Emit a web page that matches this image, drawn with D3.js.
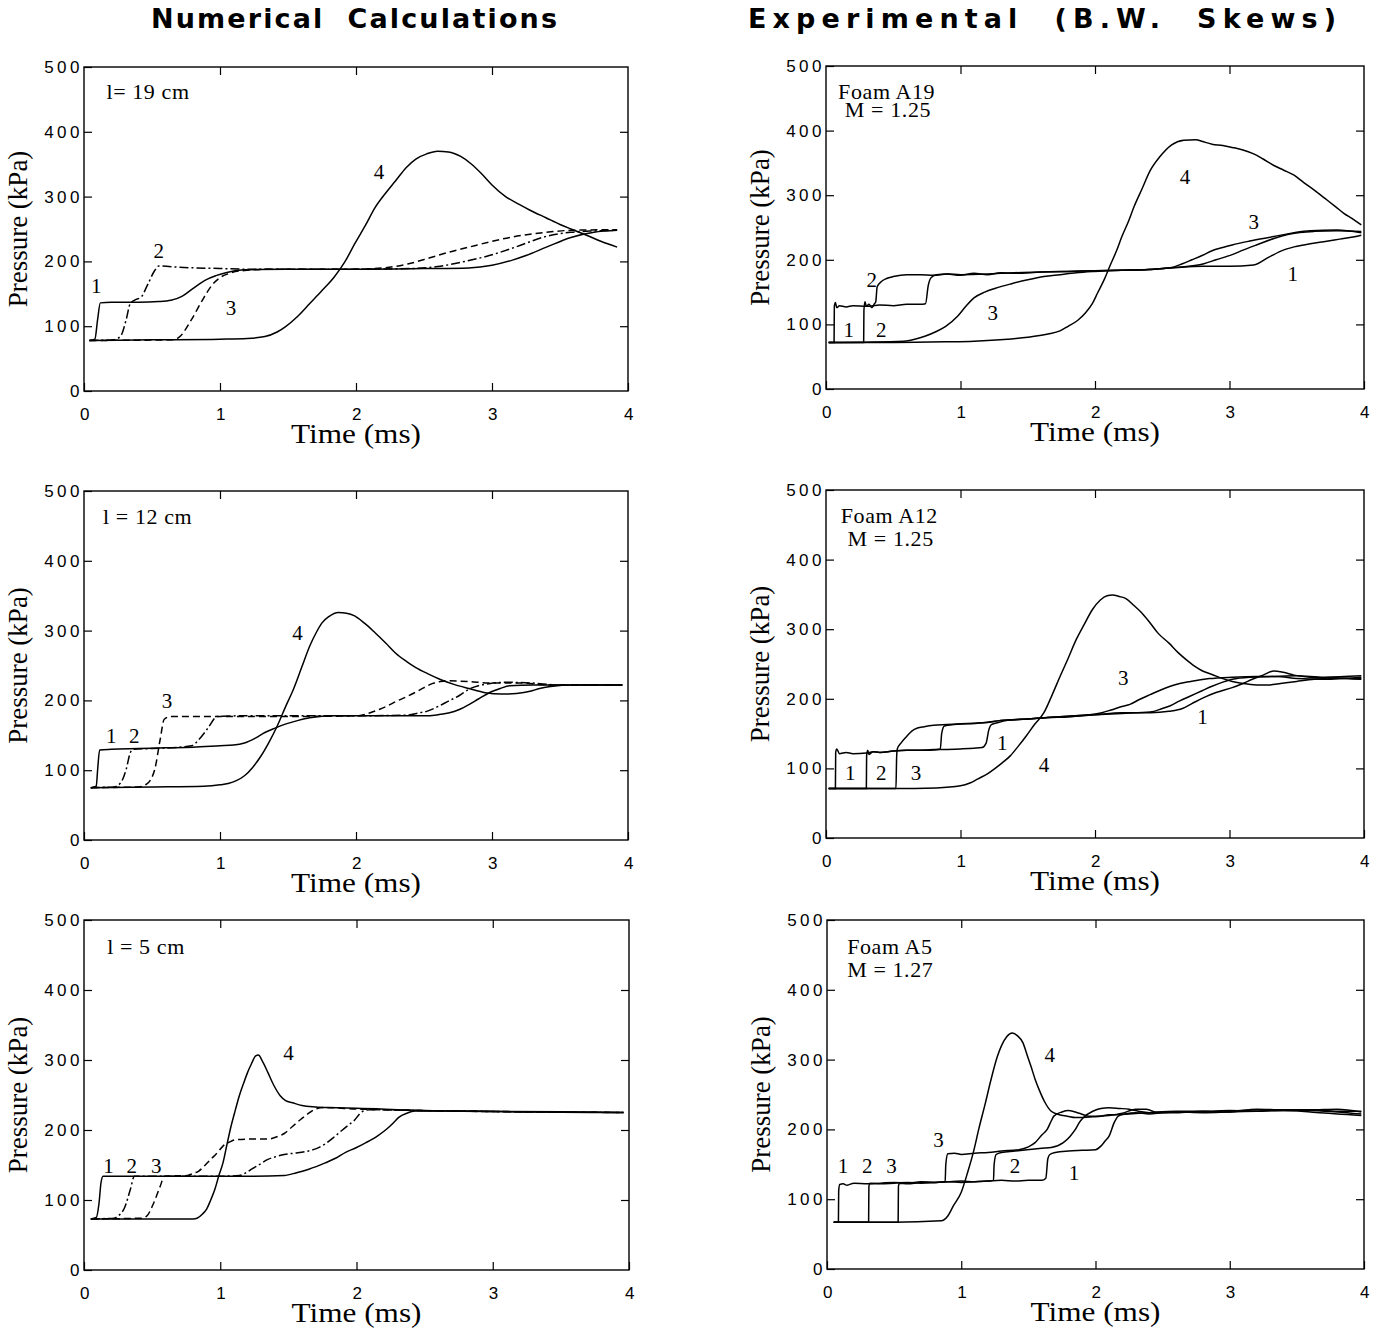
<!DOCTYPE html>
<html>
<head>
<meta charset="utf-8">
<script src="https://cdn.jsdelivr.net/npm/d3@7"></script>
<style>
  body { margin: 0; background: #fff; }
  svg { display: block; }
  .tick text { font-family: "Liberation Sans", Arial, sans-serif; font-size: 17px; letter-spacing: 3.5px; fill: #000; }
  .tick line { stroke: #000; stroke-width: 1.2; }
  .serif { font-family: "Liberation Serif", "Times New Roman", serif; fill: #000; }
  .title { font-family: "DejaVu Sans", sans-serif; font-weight: bold; font-size: 27px; white-space: pre; }
</style>
</head>
<body>
<svg id="chart" width="1388" height="1332"></svg>
<script>
// ---- tick values
const timeTicks = [0, 1, 2, 3, 4];
const pressureTicks = [0, 100, 200, 300, 400, 500];

// ---- Numerical, l = 19 cm  (t in ms, p in kPa)
const num19_c1 = [[0.04,78],[0.08,80],[0.10,110],[0.12,136],[0.2,137],[0.4,137],[0.55,138],[0.64,140],[0.72,146],[0.8,158],[0.9,172],[0.97,178],[1.05,183],[1.18,187],[1.5,188],[2.0,188],[2.5,189],[2.83,190],[3.0,194],[3.15,202],[3.25,209],[3.4,222],[3.58,237],[3.75,245],[3.92,248]];
const num19_c2 = [[0.04,78],[0.22,79],[0.27,85],[0.31,110],[0.34,135],[0.37,140],[0.42,145],[0.47,165],[0.52,186],[0.55,193],[0.7,191],[1.0,189],[1.2,188],[1.8,188],[2.4,189],[2.6,192],[2.8,200],[2.98,209],[3.13,219],[3.25,228],[3.37,237],[3.5,243],[3.58,245],[3.75,247],[3.92,248]];
const num19_c3 = [[0.04,78],[0.65,79],[0.7,83],[0.79,110],[0.87,140],[0.94,163],[1.0,175],[1.06,181],[1.18,186],[1.4,188],[2.0,188],[2.2,190],[2.38,196],[2.55,206],[2.68,214],[2.83,222],[2.98,230],[3.13,237],[3.28,242],[3.45,246],[3.58,248],[3.92,249]];
const num19_c4 = [[0.04,78],[0.5,79],[1.0,80],[1.2,81],[1.33,84],[1.42,91],[1.48,99],[1.57,115],[1.66,135],[1.75,155],[1.84,176],[1.92,200],[1.99,227],[2.07,256],[2.14,283],[2.22,306],[2.29,324],[2.37,345],[2.44,358],[2.52,366],[2.6,370],[2.68,369],[2.77,362],[2.85,350],[2.92,336],[3.0,318],[3.1,300],[3.2,288],[3.28,279],[3.4,267],[3.5,257],[3.58,250],[3.7,240],[3.8,231],[3.92,222]];

// ---- Experimental, foam A19
const exp19_c1 = [[0.02,72],[0.06,72],[0.062,128],[0.07,134],[0.08,126],[0.1,129],[0.15,127],[0.2,129],[0.3,128],[0.4,130],[0.5,129],[0.6,131],[0.7,131],[0.74,132],[0.76,160],[0.78,172],[0.82,177],[0.9,178],[1.0,176],[1.1,179],[1.2,177],[1.3,180],[1.4,179],[1.6,181],[1.8,182],[2.0,183],[2.2,184],[2.4,185],[2.6,188],[2.8,190],[3.0,190],[3.18,192],[3.3,205],[3.4,215],[3.48,220],[3.6,225],[3.7,228],[3.82,232],[3.94,236],[3.98,238]];
const exp19_c2 = [[0.02,72],[0.28,72],[0.282,122],[0.29,135],[0.3,128],[0.32,131],[0.34,126],[0.36,132],[0.37,135],[0.38,158],[0.41,166],[0.45,171],[0.5,174],[0.6,177],[0.7,177],[0.8,176],[0.9,178],[1.0,177],[1.2,178],[1.4,180],[1.6,181],[1.8,182],[2.0,183],[2.2,184],[2.4,185],[2.6,188],[2.81,194],[2.9,200],[3.02,208],[3.1,215],[3.2,223],[3.33,233],[3.45,240],[3.63,244],[3.8,245],[3.98,244]];
const exp19_c3 = [[0.02,72],[0.58,74],[0.66,77],[0.74,82],[0.82,89],[0.89,97],[0.98,113],[1.04,128],[1.1,141],[1.18,150],[1.26,156],[1.38,163],[1.5,169],[1.62,174],[1.74,177],[1.86,180],[1.99,182],[2.2,184],[2.4,185],[2.57,188],[2.65,194],[2.72,200],[2.8,207],[2.87,214],[2.95,219],[3.02,223],[3.15,229],[3.33,236],[3.48,242],[3.6,245],[3.8,246],[3.98,242]];
const exp19_c4 = [[0.02,72],[0.5,72],[0.89,73],[1.1,74],[1.35,77],[1.5,80],[1.65,85],[1.74,90],[1.8,97],[1.87,106],[1.93,118],[1.98,132],[2.02,149],[2.07,170],[2.11,190],[2.16,214],[2.2,236],[2.25,260],[2.29,282],[2.35,310],[2.41,338],[2.48,359],[2.57,378],[2.66,385],[2.75,386],[2.8,383],[2.87,379],[2.95,377],[3.02,374],[3.1,370],[3.18,364],[3.25,356],[3.33,346],[3.4,339],[3.48,331],[3.55,320],[3.63,308],[3.71,295],[3.79,282],[3.85,272],[3.91,264],[3.98,254]];

// ---- Numerical, l = 12 cm
const num12_c1 = [[0.05,75],[0.09,77],[0.1,100],[0.115,129],[0.2,130],[0.4,131],[0.6,132],[0.8,133],[1.0,135],[1.1,136],[1.18,139],[1.26,146],[1.33,154],[1.4,160],[1.48,166],[1.57,171],[1.66,175],[1.84,178],[2.2,178],[2.53,178],[2.62,180],[2.68,182],[2.76,187],[2.83,194],[2.9,202],[2.98,211],[3.06,217],[3.13,221],[3.3,222],[3.5,222],[3.96,222]];
const num12_c2 = [[0.05,75],[0.22,76],[0.27,82],[0.31,101],[0.34,125],[0.36,130],[0.5,131],[0.7,133],[0.79,135],[0.85,145],[0.91,160],[0.98,177],[1.2,178],[2.0,178],[2.38,179],[2.46,182],[2.53,185],[2.6,191],[2.68,199],[2.76,207],[2.83,216],[2.9,221],[2.98,224],[3.1,226],[3.28,225],[3.5,222],[3.96,222]];
const num12_c3 = [[0.05,75],[0.4,76],[0.46,80],[0.52,101],[0.56,144],[0.59,173],[0.64,177],[1.0,177],[1.5,177],[2.02,178],[2.1,182],[2.17,187],[2.23,192],[2.3,199],[2.38,206],[2.47,215],[2.56,224],[2.62,227],[2.68,228],[2.83,227],[2.98,225],[3.2,225],[3.43,222],[3.96,222]];
const num12_c4 = [[0.05,75],[0.5,76],[0.88,77],[1.0,79],[1.06,81],[1.12,85],[1.18,92],[1.24,104],[1.3,120],[1.36,140],[1.42,163],[1.48,190],[1.54,216],[1.6,247],[1.66,278],[1.71,298],[1.75,311],[1.8,320],[1.87,326],[1.93,325],[1.99,321],[2.06,311],[2.14,297],[2.22,282],[2.29,268],[2.37,256],[2.44,247],[2.53,238],[2.62,230],[2.72,223],[2.83,217],[2.95,211],[3.07,209],[3.18,210],[3.28,213],[3.35,217],[3.43,220],[3.6,222],[3.96,222]];

// ---- Experimental, foam A12
const exp12_c1 = [[0.02,71],[0.07,71],[0.072,123],[0.08,128],[0.1,121],[0.15,123],[0.2,121],[0.3,122],[0.35,124],[0.4,123],[0.5,125],[0.6,126],[0.7,126],[0.85,127],[1.0,128],[1.1,129],[1.16,130],[1.19,136],[1.21,155],[1.23,163],[1.28,166],[1.35,169],[1.5,171],[1.65,173],[1.8,174],[2.0,177],[2.2,180],[2.41,180],[2.55,182],[2.65,186],[2.72,193],[2.8,201],[2.9,209],[3.02,216],[3.1,222],[3.17,228],[3.25,234],[3.33,240],[3.4,238],[3.48,234],[3.6,231],[3.78,230],[3.98,228]];
const exp12_c2 = [[0.02,71],[0.3,71],[0.302,118],[0.31,126],[0.32,120],[0.35,124],[0.4,123],[0.5,125],[0.6,126],[0.7,126],[0.8,127],[0.85,128],[0.86,150],[0.88,161],[0.95,163],[1.05,164],[1.19,166],[1.3,169],[1.5,171],[1.65,173],[1.8,175],[2.0,177],[2.2,179],[2.41,181],[2.5,186],[2.56,190],[2.63,197],[2.71,204],[2.8,212],[2.87,218],[2.95,224],[3.02,228],[3.15,231],[3.32,232],[3.5,233],[3.7,231],[3.98,233]];
const exp12_c3 = [[0.02,71],[0.52,71],[0.525,115],[0.53,128],[0.56,137],[0.6,146],[0.64,154],[0.68,158],[0.73,160],[0.8,162],[0.9,163],[1.0,164],[1.1,165],[1.19,166],[1.3,169],[1.5,171],[1.65,173],[1.8,175],[1.95,177],[2.05,180],[2.12,184],[2.2,189],[2.26,192],[2.33,199],[2.41,206],[2.48,212],[2.56,218],[2.63,222],[2.71,225],[2.85,229],[3.02,231],[3.2,232],[3.35,232],[3.5,229],[3.7,228],[3.98,231]];
const exp12_c4 = [[0.02,71],[0.5,71],[0.82,72],[1.0,75],[1.07,79],[1.13,85],[1.2,92],[1.25,99],[1.31,108],[1.37,118],[1.43,132],[1.49,147],[1.55,163],[1.62,180],[1.68,205],[1.74,232],[1.8,258],[1.86,285],[1.92,307],[1.98,328],[2.04,342],[2.09,348],[2.13,349],[2.18,347],[2.23,344],[2.29,334],[2.35,323],[2.41,309],[2.47,294],[2.55,280],[2.62,266],[2.68,256],[2.74,247],[2.8,240],[2.87,235],[2.95,229],[3.02,225],[3.1,222],[3.2,220],[3.3,220],[3.38,222],[3.5,225],[3.63,228],[3.8,230],[3.98,229]];

// ---- Numerical, l = 5 cm
const num5_c1 = [[0.05,73],[0.09,75],[0.11,95],[0.125,125],[0.14,134],[0.4,134],[0.8,134],[1.2,134],[1.47,135],[1.56,139],[1.65,144],[1.77,153],[1.85,160],[1.92,168],[2.0,175],[2.07,182],[2.15,191],[2.22,201],[2.27,210],[2.31,218],[2.37,224],[2.43,227],[2.8,227],[3.5,226],[3.96,225]];
const num5_c2 = [[0.05,73],[0.22,74],[0.25,77],[0.3,90],[0.34,115],[0.37,134],[0.6,134],[1.0,134],[1.14,135],[1.19,139],[1.23,144],[1.29,151],[1.35,158],[1.41,162],[1.47,165],[1.55,167],[1.62,169],[1.7,173],[1.77,180],[1.83,189],[1.89,199],[1.94,207],[1.98,213],[2.04,226],[2.1,229],[2.4,228],[3.96,225]];
const num5_c3 = [[0.05,73],[0.42,74],[0.46,77],[0.51,95],[0.56,120],[0.59,134],[0.76,135],[0.8,138],[0.84,141],[0.89,150],[0.93,158],[0.98,168],[1.02,177],[1.07,183],[1.11,186],[1.2,187],[1.35,187],[1.41,190],[1.47,195],[1.53,205],[1.59,215],[1.65,224],[1.7,230],[1.76,232],[2.0,230],[2.4,228],[3.96,225]];
const num5_c4 = [[0.05,73],[0.5,73],[0.8,73],[0.83,74],[0.87,80],[0.9,87],[0.93,100],[0.96,115],[0.99,135],[1.02,153],[1.05,180],[1.08,206],[1.11,228],[1.14,249],[1.17,266],[1.2,282],[1.23,295],[1.26,306],[1.28,307],[1.31,298],[1.35,282],[1.39,265],[1.44,249],[1.48,242],[1.53,239],[1.6,235],[1.7,233],[1.8,232],[2.0,231],[2.5,228],[3.96,225]];

// ---- Experimental, foam A5
const exp5_c1 = [[0.05,67],[0.085,67],[0.087,112],[0.095,121],[0.12,122],[0.15,120],[0.2,123],[0.3,122],[0.4,123],[0.5,124],[0.6,123],[0.7,125],[0.8,124],[0.9,125],[1.0,126],[1.1,125],[1.2,126],[1.3,127],[1.4,126],[1.5,127],[1.6,127],[1.63,130],[1.645,158],[1.66,164],[1.7,167],[1.8,169],[1.9,170],[2.0,171],[2.04,176],[2.07,183],[2.1,190],[2.14,210],[2.17,219],[2.22,222],[2.3,224],[2.4,222],[2.5,224],[2.6,225],[2.8,225],[3.0,226],[3.2,228],[3.4,227],[3.6,228],[3.8,226],[3.98,226]];
const exp5_c2 = [[0.05,67],[0.31,67],[0.312,118],[0.32,123],[0.4,122],[0.5,123],[0.6,124],[0.7,123],[0.8,124],[0.9,125],[1.0,124],[1.1,125],[1.2,126],[1.24,127],[1.245,150],[1.26,164],[1.3,167],[1.4,169],[1.49,171],[1.6,173],[1.67,174],[1.76,181],[1.81,190],[1.85,200],[1.88,210],[1.91,217],[1.98,226],[2.04,230],[2.1,231],[2.18,230],[2.25,229],[2.32,226],[2.4,224],[2.5,225],[2.6,225],[2.8,224],[3.0,225],[3.2,226],[3.4,227],[3.6,225],[3.8,222],[3.98,220]];
const exp5_c3 = [[0.05,67],[0.53,67],[0.532,118],[0.54,123],[0.6,122],[0.7,124],[0.8,124],[0.88,125],[0.885,150],[0.9,165],[0.95,166],[1.0,164],[1.1,166],[1.2,167],[1.3,169],[1.43,171],[1.5,175],[1.55,181],[1.6,192],[1.64,200],[1.67,212],[1.69,219],[1.75,225],[1.8,227],[1.88,223],[1.95,219],[2.0,219],[2.1,220],[2.2,223],[2.3,229],[2.38,229],[2.46,224],[2.6,224],[2.8,226],[3.0,225],[3.2,229],[3.4,228],[3.6,228],[3.8,229],[3.98,225]];
const exp5_c4 = [[0.05,67],[0.5,67],[0.85,69],[0.9,76],[0.94,90],[1.0,110],[1.05,140],[1.09,167],[1.13,200],[1.18,238],[1.22,270],[1.27,305],[1.3,320],[1.34,333],[1.38,338],[1.42,334],[1.46,324],[1.49,307],[1.52,290],[1.55,272],[1.58,257],[1.62,240],[1.67,226],[1.73,221],[1.79,219],[1.85,217],[1.91,217],[1.98,218],[2.04,219],[2.1,221],[2.16,221],[2.25,222],[2.4,224],[2.6,226],[2.8,226],[3.0,227],[3.2,226],[3.4,228],[3.6,227],[3.8,225],[3.98,222]];

// ---- annotations: [text, t, p, anchor]  (anchor given only for panel headers)
const num19_notes = [["l= 19 cm",0.165,462,"start"],["1",0.09,163],["2",0.55,217],["3",1.08,128],["4",2.17,339]];
const exp19_notes = [["Foam A19",0.09,461,"start"],["M = 1.25",0.14,433,"start"],["4",2.67,328],["3",3.18,259],["1",3.47,179],["2",0.34,169],["1",0.17,92],["2",0.41,92],["3",1.24,118]];
const num12_notes = [["l = 12 cm",0.14,464,"start"],["4",1.57,297],["3",0.61,199],["1",0.2,149],["2",0.37,149]];
const exp12_notes = [["Foam A12",0.11,463,"start"],["M = 1.25",0.16,430,"start"],["3",2.21,230],["1",2.8,175],["1",1.31,137],["4",1.62,106],["1",0.18,94],["2",0.41,94],["3",0.67,94]];
const num5_notes = [["l = 5 cm",0.17,463,"start"],["4",1.5,310],["1",0.18,149],["2",0.35,149],["3",0.53,149]];
const exp5_notes = [["Foam A5",0.15,462,"start"],["M = 1.27",0.15,429,"start"],["4",1.66,307],["3",0.83,186],["2",1.4,148],["1",1.84,138],["1",0.12,148],["2",0.3,148],["3",0.48,148]];

// line styles for the numerical curves
const DASHDOT = "9,3,2,3";
const DASHED = "7,4";

const panels = [
  { box: [84, 628, 67, 391], curves: [[num19_c1], [num19_c2, DASHDOT], [num19_c3, DASHED], [num19_c4]], notes: num19_notes },
  { box: [826, 1364, 66, 389], curves: [[exp19_c1], [exp19_c2], [exp19_c3], [exp19_c4]], notes: exp19_notes },
  { box: [84, 628, 491, 840], curves: [[num12_c1], [num12_c2, DASHDOT], [num12_c3, DASHED], [num12_c4]], notes: num12_notes },
  { box: [826, 1364, 490, 838], curves: [[exp12_c1], [exp12_c2], [exp12_c3], [exp12_c4]], notes: exp12_notes },
  { box: [84, 629, 920, 1270], curves: [[num5_c1], [num5_c2, DASHDOT], [num5_c3, DASHED], [num5_c4]], notes: num5_notes },
  { box: [827, 1364, 920, 1269], curves: [[exp5_c1], [exp5_c2], [exp5_c3], [exp5_c4]], notes: exp5_notes }
];

const svg = d3.select('#chart');

// column titles
const titles = [["Numerical  Calculations", 354, 406], ["Experimental  (B.W.  Skews)", 1042, 588]];
titles.forEach(([txt, cx, len]) => {
  svg.append('text').attr('class', 'title')
    .attr('x', cx).attr('y', 28)
    .attr('text-anchor', 'middle')
    .attr('textLength', len).attr('lengthAdjust', 'spacing')
    .text(txt);
});

panels.forEach(pn => {
  const [x0, x1, y0, y1] = pn.box;
  const x = d3.scaleLinear().domain([0, 4]).range([x0, x1]);
  const y = d3.scaleLinear().domain([0, 500]).range([y1, y0]);
  const g = svg.append('g');

  // inward ticks on all four sides
  g.append('g').attr('transform', `translate(${x0},0)`)
    .call(d3.axisLeft(y).tickValues(pressureTicks).tickSize(-8).tickPadding(1))
    .call(a => a.select('.domain').remove());
  g.append('g').attr('transform', `translate(0,${y1})`)
    .call(d3.axisBottom(x).tickValues(timeTicks).tickSize(-8).tickPadding(17).tickFormat(d3.format('d')))
    .call(a => a.select('.domain').remove())
    .call(a => a.selectAll('.tick text').attr('dx', '2px'));
  g.append('g').attr('transform', `translate(${x1},0)`)
    .call(d3.axisRight(y).tickValues(pressureTicks.slice(1, -1)).tickSize(-8).tickFormat(''))
    .call(a => a.select('.domain').remove());
  g.append('g').attr('transform', `translate(0,${y0})`)
    .call(d3.axisTop(x).tickValues(timeTicks.slice(1, -1)).tickSize(-8).tickFormat(''))
    .call(a => a.select('.domain').remove());

  g.append('rect')
    .attr('x', x0).attr('y', y0).attr('width', x1 - x0).attr('height', y1 - y0)
    .attr('fill', 'none').attr('stroke', '#000').attr('stroke-width', 1.4);

  const line = d3.line().x(d => x(d[0])).y(d => y(d[1])).curve(d3.curveMonotoneX);
  pn.curves.forEach(([data, dash]) => {
    g.append('path')
      .attr('d', line(data))
      .attr('fill', 'none').attr('stroke', '#000').attr('stroke-width', 1.5)
      .attr('stroke-dasharray', dash || null);
  });

  // curve numbers and panel headers
  pn.notes.forEach(([txt, t, p, anchor]) => {
    g.append('text').attr('class', 'serif')
      .attr('x', x(t)).attr('y', y(p)).attr('dy', '0.35em')
      .attr('text-anchor', anchor || 'middle')
      .style('font-size', anchor ? '22px' : '21px')
      .style('letter-spacing', anchor ? '0.6px' : null)
      .text(txt);
  });

  // axis titles
  g.append('text').attr('class', 'serif')
    .attr('x', (x0 + x1) / 2).attr('y', y1 + 52)
    .attr('text-anchor', 'middle').style('font-size', '28px')
    .attr('textLength', 130).attr('lengthAdjust', 'spacingAndGlyphs')
    .text('Time (ms)');
  g.append('text').attr('class', 'serif')
    .attr('transform', `translate(${x0 - 57},${(y0 + y1) / 2}) rotate(-90)`)
    .attr('text-anchor', 'middle').style('font-size', '27px')
    .text('Pressure (kPa)');
});
</script>
</body>
</html>
